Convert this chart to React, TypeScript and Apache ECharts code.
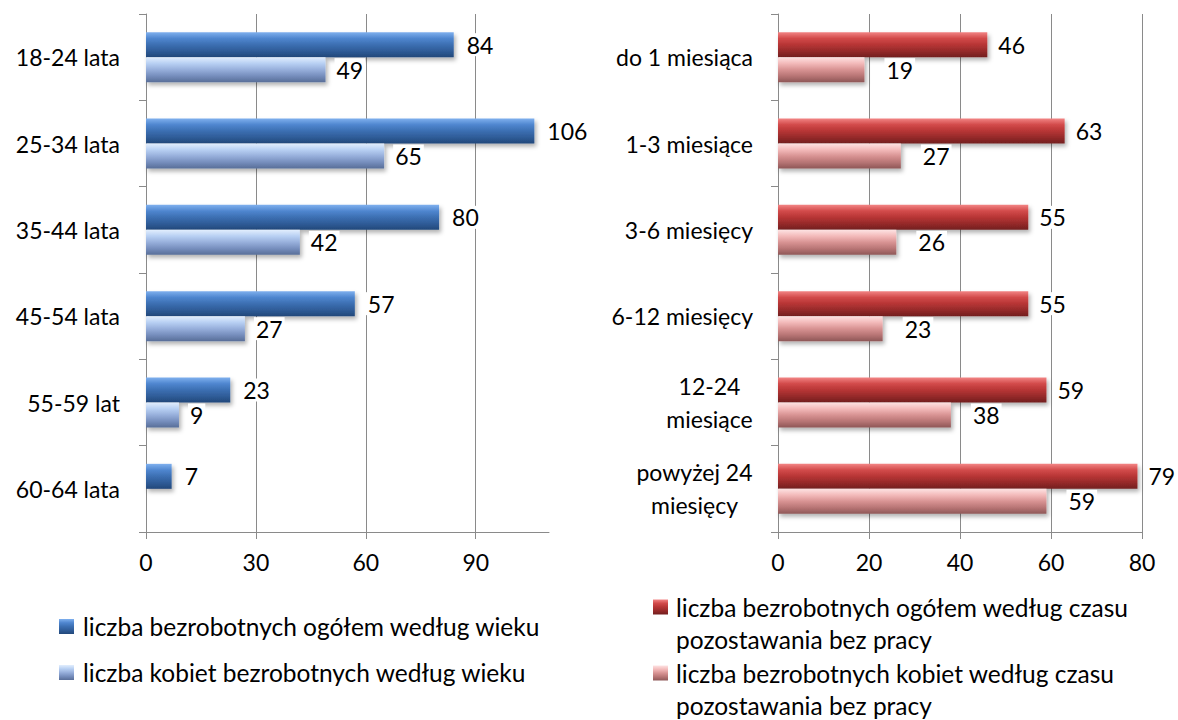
import React, { useEffect, useRef } from 'react';
import * as echarts from 'echarts';

const ageCategories = ['18-24 lata', '25-34 lata', '35-44 lata', '45-54 lata', '55-59 lat', '60-64 lata'];
const ageTotal = [84, 106, 80, 57, 23, 7];
const ageWomen: (number | null)[] = [49, 65, 42, 27, 9, null];
const ageTicks = [0, 30, 60, 90];

const durationCategories = [
  'do 1 miesiąca',
  '1-3 miesiące',
  '3-6 miesięcy',
  '6-12 miesięcy',
  '12-24\nmiesiące',
  'powyżej 24\nmiesięcy',
];
const durationTotal = [46, 63, 55, 55, 59, 79];
const durationWomen = [19, 27, 26, 23, 38, 59];
const durationTicks = [0, 20, 40, 60, 80];

const seriesNames = [
  'liczba bezrobotnych ogółem według wieku',
  'liczba kobiet bezrobotnych według wieku',
  'liczba bezrobotnych ogółem według czasu\npozostawania bez pracy',
  'liczba bezrobotnych kobiet według czasu\npozostawania bez pracy',
];

const FONT = 'Lato';
const FS = 23;
const LEG_FS = 24.5;
const GRAY = '#8a8a8a';

function measure(t: string): number {
  const c = document.createElement('canvas').getContext('2d');
  if (!c) return t.length * FS * 0.5;
  c.font = `${FS}px ${FONT}`;
  return c.measureText(t).width;
}

function grad(stops: string[]) {
  const n = stops.length - 1;
  return new echarts.graphic.LinearGradient(
    0, 0, 0, 1,
    stops.map((color, i) => ({ offset: i / n, color }))
  );
}

const blueDark = ['#7fb0ee', '#4f86cf', '#3c6fb2', '#2f5c98', '#22487a'];
const blueLight = ['#e2eefd', '#b8d0f3', '#97afdb', '#768ebd', '#586e98'];
const redDark = ['#f28484', '#d24a4a', '#b73535', '#962a2a', '#721e1e'];
const redLight = ['#fde3e3', '#f3baba', '#d89393', '#b87575', '#8e5757'];

export default function App() {
  const ref = useRef<HTMLDivElement>(null);

  useEffect(() => {
    if (!ref.current) return;
    const chart = echarts.init(ref.current, undefined, { renderer: 'svg' });

    const rich: Record<string, any> = {};
    const richKey: Record<string, string> = {};
    durationCategories.forEach((c, i) => {
      const lines = c.split('\n');
      if (lines.length > 1) {
        const w = Math.ceil(Math.max(...lines.map(measure)));
        const key = 'c' + i;
        rich[key] = { width: w, align: 'center', fontSize: FS, fontFamily: FONT, lineHeight: 33, color: '#000' };
        richKey[c] = key;
      }
    });

    const labelBase = {
      show: true,
      position: 'right',
      fontSize: FS,
      fontFamily: FONT,
      color: '#000',
      backgroundColor: '#fff',
      padding: [0, 2],
    };

    const barStyle = (stops: string[]) => ({
      color: grad(stops),
      shadowBlur: 4,
      shadowColor: 'rgba(0,0,0,0.3)',
      shadowOffsetX: 2,
      shadowOffsetY: 3,
    });

    const valueAxisCommon = {
      type: 'value',
      min: 0,
      axisLine: { show: true, lineStyle: { color: GRAY, width: 1 } },
      axisTick: { show: true, length: 7, lineStyle: { color: GRAY } },
      splitLine: { show: true, lineStyle: { color: GRAY, width: 1 } },
      axisLabel: { fontSize: FS, fontFamily: FONT, color: '#000', margin: 18 },
    };

    const catAxisCommon = {
      type: 'category',
      inverse: true,
      axisLine: { show: true, lineStyle: { color: GRAY, width: 1 } },
      axisTick: { show: true, length: 7, alignWithLabel: false, lineStyle: { color: GRAY } },
      splitLine: { show: false },
    };

    chart.setOption({
      animation: false,
      backgroundColor: '#fff',
      textStyle: { fontFamily: FONT },
      grid: [
        { left: 146, top: 14, width: 403, height: 518 },
        { left: 778, top: 14, width: 364, height: 518 },
      ],
      xAxis: [
        {
          ...valueAxisCommon,
          gridIndex: 0,
          max: 110,
          interval: 30,
          axisTick: { ...valueAxisCommon.axisTick, customValues: ageTicks },
          axisLabel: { ...valueAxisCommon.axisLabel, customValues: ageTicks },
        },
        {
          ...valueAxisCommon,
          gridIndex: 1,
          max: 80,
          interval: 20,
          axisTick: { ...valueAxisCommon.axisTick, customValues: durationTicks },
          axisLabel: { ...valueAxisCommon.axisLabel, customValues: durationTicks },
        },
      ],
      yAxis: [
        {
          ...catAxisCommon,
          gridIndex: 0,
          data: ageCategories,
          axisLabel: { fontSize: FS, fontFamily: FONT, color: '#000', margin: 26 },
        },
        {
          ...catAxisCommon,
          gridIndex: 1,
          data: durationCategories,
          axisLabel: {
            fontSize: FS,
            fontFamily: FONT,
            color: '#000',
            margin: 25,
            lineHeight: 33,
            rich,
            formatter: (v: string) => {
              const key = richKey[v];
              if (!key) return v;
              return v.split('\n').map((l) => `{${key}|${l}}`).join('\n');
            },
          },
        },
      ],
      legend: [
        {
          data: [seriesNames[0], seriesNames[1]],
          orient: 'vertical',
          left: 59,
          top: 613.5,
          height: 120,
          padding: 0,
          itemWidth: 15,
          itemHeight: 15,
          itemGap: 20,
          icon: 'rect',
          selectedMode: false,
          textStyle: { fontSize: LEG_FS, fontFamily: FONT, color: '#000', lineHeight: 26, padding: [0, 0, 0, 4] },
        },
        {
          data: [seriesNames[2], seriesNames[3]],
          orient: 'vertical',
          left: 653,
          top: 559,
          height: 300,
          padding: 0,
          itemWidth: 15,
          itemHeight: 15,
          itemGap: -30,
          icon: 'rect',
          selectedMode: false,
          formatter: (name: string) => '\n' + name,
          textStyle: { fontSize: LEG_FS, fontFamily: FONT, color: '#000', lineHeight: 32, padding: [0, 0, 0, 3] },
        },
      ],
      series: [
        {
          name: seriesNames[0],
          type: 'bar',
          xAxisIndex: 0,
          yAxisIndex: 0,
          data: ageTotal,
          barWidth: 25,
          barGap: '0%',
          itemStyle: barStyle(blueDark),
          label: { ...labelBase, distance: 11 },
        },
        {
          name: seriesNames[1],
          type: 'bar',
          xAxisIndex: 0,
          yAxisIndex: 0,
          data: ageWomen.map((v) => (v === null ? '-' : v)),
          barWidth: 25,
          barGap: '0%',
          itemStyle: barStyle(blueLight),
          label: { ...labelBase, distance: 9 },
        },
        {
          name: seriesNames[2],
          type: 'bar',
          xAxisIndex: 1,
          yAxisIndex: 1,
          data: durationTotal,
          barWidth: 25,
          barGap: '0%',
          itemStyle: barStyle(redDark),
          label: { ...labelBase, distance: 9 },
        },
        {
          name: seriesNames[3],
          type: 'bar',
          xAxisIndex: 1,
          yAxisIndex: 1,
          data: durationWomen,
          barWidth: 25,
          barGap: '0%',
          itemStyle: barStyle(redLight),
          label: { ...labelBase, distance: 20 },
        },
      ],
    });

    return () => chart.dispose();
  }, []);

  return (
    <div
      ref={ref}
      style={{ position: 'absolute', left: 0, top: 0, width: 1178, height: 720, background: '#fff' }}
    />
  );
}
